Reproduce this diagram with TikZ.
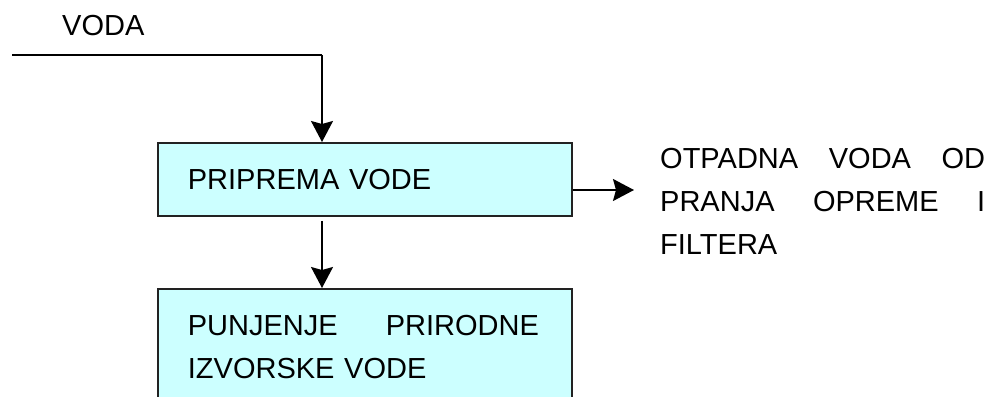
\documentclass[tikz,border=0pt]{standalone}
\usepackage{fontspec}
\setmainfont{Liberation Sans}
\usetikzlibrary{arrows.meta}
\definecolor{boxfill}{HTML}{CCFFFF}
\definecolor{boxline}{HTML}{222222}
\tikzset{
  procbox/.style={draw=boxline, line width=1.8pt, fill=boxfill, rectangle,
    minimum width=414pt, text width=354pt, inner xsep=30pt, align=left,
    anchor=north west, font=\fontsize{29}{43}\selectfont},
  flow/.style={line width=1.6pt, -{Stealth[length=21pt,width=22pt,inset=3pt]}},
  plain/.style={line width=1.6pt},
  lbl/.style={inner sep=0pt, font=\fontsize{29}{43}\selectfont}
}
\begin{document}
\begin{tikzpicture}[x=1pt,y=-1pt]
\useasboundingbox (0,0) rectangle (995,396);
\begin{scope}
\clip (0,0) rectangle (995,396);
\node[procbox, minimum height=73pt] (b1) at (157,142) {PRIPREMA VODE};
\node[procbox, inner ysep=26pt] (b2) at (157,288)
  {\makebox[351pt]{PUNJENJE\hfill PRIRODNE}\\IZVORSKE VODE};
\end{scope}
\node[lbl, anchor=base west] (voda) at (62,36) {VODA};
\node[lbl, anchor=north west, text width=325pt, align=left] (out) at (660,148)
  {\makebox[325pt]{OTPADNA\hfill VODA\hfill OD}\\\makebox[325pt]{PRANJA\hfill OPREME\hfill I}\\FILTERA};
\coordinate (in) at (12,55);
\coordinate (corner) at (322,55);
\coordinate (outtip) at (634,190);
\draw[plain] (in) -- (corner);
\draw[flow] (corner) -- (corner |- b1.north);
\draw[flow] ([yshift=-4pt]b1.south -| corner) -- (corner |- b2.north);
\draw[flow] (b1.east |- outtip) -- (outtip);
\end{tikzpicture}
\end{document}
